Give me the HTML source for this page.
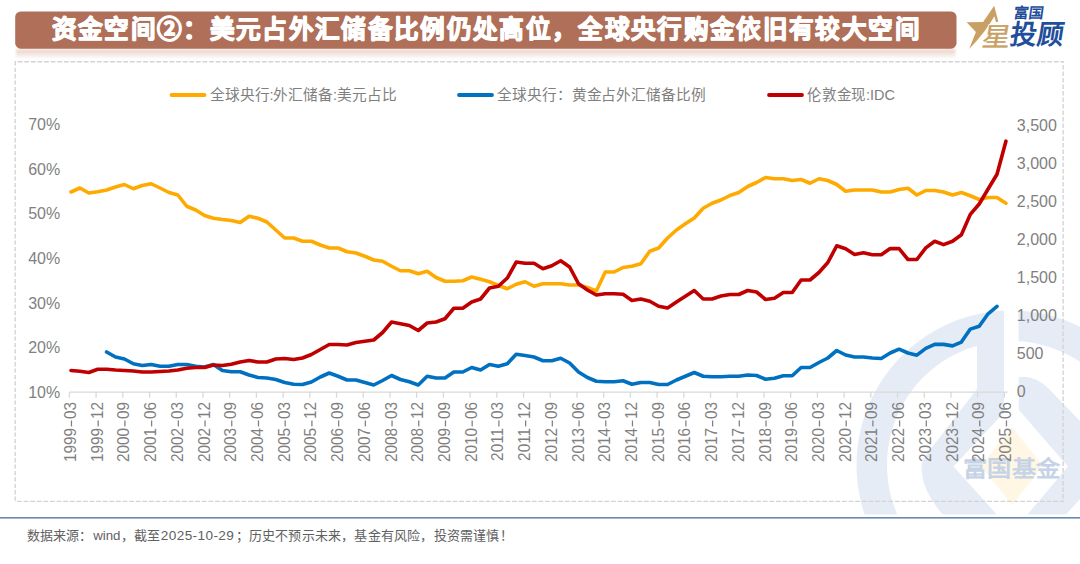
<!DOCTYPE html>
<html lang="zh-CN"><head><meta charset="utf-8">
<style>
html,body{margin:0;padding:0;background:#fff;}
body{width:1080px;height:564px;overflow:hidden;position:relative;font-family:"Liberation Sans", sans-serif;}
svg{position:absolute;left:0;top:0;}
.t{font-family:"Liberation Sans", sans-serif;}
</style></head><body>
<svg width="1080" height="564" viewBox="0 0 1080 564">
<defs>
<linearGradient id="refl" x1="0" y1="0" x2="0" y2="1">
<stop offset="0" stop-color="#f6ebe6"/>
<stop offset="0.25" stop-color="#ecd8d0"/>
<stop offset="1" stop-color="#ffffff"/>
</linearGradient>
<filter id="soft" x="-0.01" y="-0.3" width="1.02" height="1.6"><feGaussianBlur stdDeviation="1"/></filter>
<clipPath id="wmclip"><rect x="0" y="0" width="1080" height="514.5"/></clipPath>
</defs>
<!-- watermark -->
<g clip-path="url(#wmclip)">
<path fill-rule="evenodd" d="M1011,310.5 A154.5,154.5 0 1 0 1011.01,310.5 Z M1011,341 A124,124 0 1 1 1010.99,341 Z" fill="#e6ecf6"/>
<path d="M977,330 L1004,330 L1004,412.5 L953.5,466.5 L1000,518 L946,518 Q923,494 921.5,470 Q921,461 926.5,454.5 L977,389 Z" fill="#e6ecf6"/>
<path d="M1018.5,377 Q1036,375 1050,390 L1080,421 L1080,499 L1063,518 L1024.5,518 L1068,466.5 L1018.5,409.5 Z" fill="#e6ecf6"/>
<rect x="1004" y="300" width="14.5" height="109" fill="#ffffff"/>
<path d="M1012,427 L1043,466 L1012,505 L981,466 Z" fill="#fff6e3"/>
<text x="963.3" y="476" font-size="22" font-weight="bold" fill="#c6d3e6" class="t" textLength="96.5" lengthAdjust="spacingAndGlyphs">富国基金</text>
</g>
<!-- title bar -->
<rect x="16" y="48.5" width="939.5" height="10.5" fill="url(#refl)" filter="url(#soft)"/>
<rect x="15.2" y="11.5" width="941.3" height="37.2" rx="5.5" fill="#b06f58"/>
<text x="51.5" y="38.2" font-size="24.6" font-weight="900" fill="#ffffff" stroke="#ffffff" stroke-width="1.25" stroke-linejoin="round" class="t" textLength="868" lengthAdjust="spacing">资金空间②：美元占外汇储备比例仍处高位，全球央行购金依旧有较大空间</text>
<!-- logo -->
<g>
<path d="M994.2,5.7 L998.3,21.6 L996,22.2 L994.4,16.2 Q985.5,32 969.1,49.1 L975.9,32.1 L966.6,22.3 L983.1,21.9 Z" fill="#c9a063"/>
<text x="981.5" y="45.8" font-size="26" font-weight="500" fill="#ffffff" stroke="#ffffff" stroke-width="2.2" stroke-linejoin="round" class="t" transform="skewX(-10)" transform-origin="981.5 45.8" textLength="28" lengthAdjust="spacingAndGlyphs">星</text>
<text x="981.5" y="45.8" font-size="26" font-weight="500" fill="#c9a063" stroke="#c9a063" stroke-width="0.4" class="t" transform="skewX(-10)" transform-origin="981.5 45.8" textLength="28" lengthAdjust="spacingAndGlyphs">星</text>
<text x="1013" y="18" font-size="14.5" font-weight="bold" fill="#1f4e9a" class="t" transform="skewX(-8)" transform-origin="1013 18" textLength="31" lengthAdjust="spacingAndGlyphs">富国</text>
<text x="1009.5" y="44.3" font-size="27" font-weight="bold" fill="#1f4e9a" class="t" transform="skewX(-9)" transform-origin="1009.5 44.3" textLength="52.5" lengthAdjust="spacingAndGlyphs">投顾</text>
</g>
<!-- dashed frame -->
<g fill="none" stroke="#d4d4d4" stroke-width="1.4">
<path d="M15,61.8H1063.8" stroke-dasharray="4.8 1.8" stroke-dashoffset="3.9"/>
<path d="M15.2,61.3V501.6" stroke-dasharray="4.3 2.1"/>
<path d="M15,501.4H1063.8" stroke-dasharray="4.8 1.8" stroke-dashoffset="4.6"/>
<path d="M1063.1,61.8V501.4" stroke-dasharray="4.5 2.0" stroke-dashoffset="3.2"/>
</g>
<!-- legend -->
<g font-size="14.7" fill="#7f7f7f" class="t">
<line x1="171.5" y1="95" x2="204.5" y2="95" stroke="#ffaa00" stroke-width="3.8" stroke-linecap="round"/>
<text x="210" y="100.3" textLength="186.5" lengthAdjust="spacing">全球央行:外汇储备:美元占比</text>
<line x1="459" y1="95" x2="492" y2="95" stroke="#0070c0" stroke-width="3.8" stroke-linecap="round"/>
<text x="497" y="100.3" textLength="209" lengthAdjust="spacing">全球央行：黄金占外汇储备比例</text>
<line x1="769" y1="95" x2="802" y2="95" stroke="#c00000" stroke-width="3.8" stroke-linecap="round"/>
<text x="807" y="100.3" textLength="88" lengthAdjust="spacingAndGlyphs">伦敦金现:IDC</text>
</g>
<!-- axes -->
<g font-size="16" fill="#7f7f7f" class="t">
<text x="60.2" y="130.20" text-anchor="end">70%</text><text x="60.2" y="174.78" text-anchor="end">60%</text><text x="60.2" y="219.36" text-anchor="end">50%</text><text x="60.2" y="263.94" text-anchor="end">40%</text><text x="60.2" y="308.52" text-anchor="end">30%</text><text x="60.2" y="353.10" text-anchor="end">20%</text><text x="60.2" y="397.68" text-anchor="end">10%</text>
<text x="1016.8" y="130.50">3,500</text><text x="1016.8" y="168.64">3,000</text><text x="1016.8" y="206.78">2,500</text><text x="1016.8" y="244.92">2,000</text><text x="1016.8" y="283.06">1,500</text><text x="1016.8" y="321.20">1,000</text><text x="1016.8" y="359.34">500</text><text x="1016.8" y="397.48">0</text>
</g>
<path d="M69.4,392.2H1007.5 M69.40,392.2V397.8 M96.11,392.2V397.8 M122.83,392.2V397.8 M149.54,392.2V397.8 M176.26,392.2V397.8 M202.97,392.2V397.8 M229.68,392.2V397.8 M256.40,392.2V397.8 M283.11,392.2V397.8 M309.83,392.2V397.8 M336.54,392.2V397.8 M363.25,392.2V397.8 M389.97,392.2V397.8 M416.68,392.2V397.8 M443.40,392.2V397.8 M470.11,392.2V397.8 M496.82,392.2V397.8 M523.54,392.2V397.8 M550.25,392.2V397.8 M576.97,392.2V397.8 M603.68,392.2V397.8 M630.39,392.2V397.8 M657.11,392.2V397.8 M683.82,392.2V397.8 M710.54,392.2V397.8 M737.25,392.2V397.8 M763.96,392.2V397.8 M790.68,392.2V397.8 M817.39,392.2V397.8 M844.11,392.2V397.8 M870.82,392.2V397.8 M897.53,392.2V397.8 M924.25,392.2V397.8 M950.96,392.2V397.8 M977.68,392.2V397.8 M1004.39,392.2V397.8" stroke="#d9d9d9" stroke-width="1.3" fill="none"/>
<g font-size="16" fill="#7f7f7f" class="t">
<g transform="translate(76.00,401.9) rotate(-90) scale(0.962,1)"><text x="0" text-anchor="end">03</text><rect x="-25.49" y="-5.15" width="6.2" height="1.25"/><text x="-26.99" text-anchor="end">1999</text></g>
<g transform="translate(102.71,401.9) rotate(-90) scale(0.962,1)"><text x="0" text-anchor="end">12</text><rect x="-25.49" y="-5.15" width="6.2" height="1.25"/><text x="-26.99" text-anchor="end">1999</text></g>
<g transform="translate(129.43,401.9) rotate(-90) scale(0.962,1)"><text x="0" text-anchor="end">09</text><rect x="-25.49" y="-5.15" width="6.2" height="1.25"/><text x="-26.99" text-anchor="end">2000</text></g>
<g transform="translate(156.14,401.9) rotate(-90) scale(0.962,1)"><text x="0" text-anchor="end">06</text><rect x="-25.49" y="-5.15" width="6.2" height="1.25"/><text x="-26.99" text-anchor="end">2001</text></g>
<g transform="translate(182.86,401.9) rotate(-90) scale(0.962,1)"><text x="0" text-anchor="end">03</text><rect x="-25.49" y="-5.15" width="6.2" height="1.25"/><text x="-26.99" text-anchor="end">2002</text></g>
<g transform="translate(209.57,401.9) rotate(-90) scale(0.962,1)"><text x="0" text-anchor="end">12</text><rect x="-25.49" y="-5.15" width="6.2" height="1.25"/><text x="-26.99" text-anchor="end">2002</text></g>
<g transform="translate(236.28,401.9) rotate(-90) scale(0.962,1)"><text x="0" text-anchor="end">09</text><rect x="-25.49" y="-5.15" width="6.2" height="1.25"/><text x="-26.99" text-anchor="end">2003</text></g>
<g transform="translate(263.00,401.9) rotate(-90) scale(0.962,1)"><text x="0" text-anchor="end">06</text><rect x="-25.49" y="-5.15" width="6.2" height="1.25"/><text x="-26.99" text-anchor="end">2004</text></g>
<g transform="translate(289.71,401.9) rotate(-90) scale(0.962,1)"><text x="0" text-anchor="end">03</text><rect x="-25.49" y="-5.15" width="6.2" height="1.25"/><text x="-26.99" text-anchor="end">2005</text></g>
<g transform="translate(316.43,401.9) rotate(-90) scale(0.962,1)"><text x="0" text-anchor="end">12</text><rect x="-25.49" y="-5.15" width="6.2" height="1.25"/><text x="-26.99" text-anchor="end">2005</text></g>
<g transform="translate(343.14,401.9) rotate(-90) scale(0.962,1)"><text x="0" text-anchor="end">09</text><rect x="-25.49" y="-5.15" width="6.2" height="1.25"/><text x="-26.99" text-anchor="end">2006</text></g>
<g transform="translate(369.85,401.9) rotate(-90) scale(0.962,1)"><text x="0" text-anchor="end">06</text><rect x="-25.49" y="-5.15" width="6.2" height="1.25"/><text x="-26.99" text-anchor="end">2007</text></g>
<g transform="translate(396.57,401.9) rotate(-90) scale(0.962,1)"><text x="0" text-anchor="end">03</text><rect x="-25.49" y="-5.15" width="6.2" height="1.25"/><text x="-26.99" text-anchor="end">2008</text></g>
<g transform="translate(423.28,401.9) rotate(-90) scale(0.962,1)"><text x="0" text-anchor="end">12</text><rect x="-25.49" y="-5.15" width="6.2" height="1.25"/><text x="-26.99" text-anchor="end">2008</text></g>
<g transform="translate(450.00,401.9) rotate(-90) scale(0.962,1)"><text x="0" text-anchor="end">09</text><rect x="-25.49" y="-5.15" width="6.2" height="1.25"/><text x="-26.99" text-anchor="end">2009</text></g>
<g transform="translate(476.71,401.9) rotate(-90) scale(0.962,1)"><text x="0" text-anchor="end">06</text><rect x="-25.49" y="-5.15" width="6.2" height="1.25"/><text x="-26.99" text-anchor="end">2010</text></g>
<g transform="translate(503.42,401.9) rotate(-90) scale(0.962,1)"><text x="0" text-anchor="end">03</text><rect x="-25.49" y="-5.15" width="6.2" height="1.25"/><text x="-26.99" text-anchor="end">2011</text></g>
<g transform="translate(530.14,401.9) rotate(-90) scale(0.962,1)"><text x="0" text-anchor="end">12</text><rect x="-25.49" y="-5.15" width="6.2" height="1.25"/><text x="-26.99" text-anchor="end">2011</text></g>
<g transform="translate(556.85,401.9) rotate(-90) scale(0.962,1)"><text x="0" text-anchor="end">09</text><rect x="-25.49" y="-5.15" width="6.2" height="1.25"/><text x="-26.99" text-anchor="end">2012</text></g>
<g transform="translate(583.57,401.9) rotate(-90) scale(0.962,1)"><text x="0" text-anchor="end">06</text><rect x="-25.49" y="-5.15" width="6.2" height="1.25"/><text x="-26.99" text-anchor="end">2013</text></g>
<g transform="translate(610.28,401.9) rotate(-90) scale(0.962,1)"><text x="0" text-anchor="end">03</text><rect x="-25.49" y="-5.15" width="6.2" height="1.25"/><text x="-26.99" text-anchor="end">2014</text></g>
<g transform="translate(636.99,401.9) rotate(-90) scale(0.962,1)"><text x="0" text-anchor="end">12</text><rect x="-25.49" y="-5.15" width="6.2" height="1.25"/><text x="-26.99" text-anchor="end">2014</text></g>
<g transform="translate(663.71,401.9) rotate(-90) scale(0.962,1)"><text x="0" text-anchor="end">09</text><rect x="-25.49" y="-5.15" width="6.2" height="1.25"/><text x="-26.99" text-anchor="end">2015</text></g>
<g transform="translate(690.42,401.9) rotate(-90) scale(0.962,1)"><text x="0" text-anchor="end">06</text><rect x="-25.49" y="-5.15" width="6.2" height="1.25"/><text x="-26.99" text-anchor="end">2016</text></g>
<g transform="translate(717.14,401.9) rotate(-90) scale(0.962,1)"><text x="0" text-anchor="end">03</text><rect x="-25.49" y="-5.15" width="6.2" height="1.25"/><text x="-26.99" text-anchor="end">2017</text></g>
<g transform="translate(743.85,401.9) rotate(-90) scale(0.962,1)"><text x="0" text-anchor="end">12</text><rect x="-25.49" y="-5.15" width="6.2" height="1.25"/><text x="-26.99" text-anchor="end">2017</text></g>
<g transform="translate(770.56,401.9) rotate(-90) scale(0.962,1)"><text x="0" text-anchor="end">09</text><rect x="-25.49" y="-5.15" width="6.2" height="1.25"/><text x="-26.99" text-anchor="end">2018</text></g>
<g transform="translate(797.28,401.9) rotate(-90) scale(0.962,1)"><text x="0" text-anchor="end">06</text><rect x="-25.49" y="-5.15" width="6.2" height="1.25"/><text x="-26.99" text-anchor="end">2019</text></g>
<g transform="translate(823.99,401.9) rotate(-90) scale(0.962,1)"><text x="0" text-anchor="end">03</text><rect x="-25.49" y="-5.15" width="6.2" height="1.25"/><text x="-26.99" text-anchor="end">2020</text></g>
<g transform="translate(850.71,401.9) rotate(-90) scale(0.962,1)"><text x="0" text-anchor="end">12</text><rect x="-25.49" y="-5.15" width="6.2" height="1.25"/><text x="-26.99" text-anchor="end">2020</text></g>
<g transform="translate(877.42,401.9) rotate(-90) scale(0.962,1)"><text x="0" text-anchor="end">09</text><rect x="-25.49" y="-5.15" width="6.2" height="1.25"/><text x="-26.99" text-anchor="end">2021</text></g>
<g transform="translate(904.13,401.9) rotate(-90) scale(0.962,1)"><text x="0" text-anchor="end">06</text><rect x="-25.49" y="-5.15" width="6.2" height="1.25"/><text x="-26.99" text-anchor="end">2022</text></g>
<g transform="translate(930.85,401.9) rotate(-90) scale(0.962,1)"><text x="0" text-anchor="end">03</text><rect x="-25.49" y="-5.15" width="6.2" height="1.25"/><text x="-26.99" text-anchor="end">2023</text></g>
<g transform="translate(957.56,401.9) rotate(-90) scale(0.962,1)"><text x="0" text-anchor="end">12</text><rect x="-25.49" y="-5.15" width="6.2" height="1.25"/><text x="-26.99" text-anchor="end">2023</text></g>
<g transform="translate(984.28,401.9) rotate(-90) scale(0.962,1)"><text x="0" text-anchor="end">09</text><rect x="-25.49" y="-5.15" width="6.2" height="1.25"/><text x="-26.99" text-anchor="end">2024</text></g>
<g transform="translate(1010.99,401.9) rotate(-90) scale(0.962,1)"><text x="0" text-anchor="end">06</text><rect x="-25.49" y="-5.15" width="6.2" height="1.25"/><text x="-26.99" text-anchor="end">2025</text></g>
</g>
<!-- series -->
<g fill="none" stroke-width="3.6" stroke-linejoin="round" stroke-linecap="round">
<polyline points="71.00,192.00 79.90,188.00 88.81,193.00 97.71,191.75 106.62,190.00 115.52,187.00 124.42,184.50 133.33,188.75 142.23,185.50 151.14,183.75 160.04,188.00 168.94,192.50 177.85,195.00 186.75,206.25 195.66,210.00 204.56,215.50 213.46,218.25 222.37,219.50 231.27,220.50 240.18,222.50 249.08,216.25 257.98,218.25 266.89,222.00 275.79,230.00 284.70,238.00 293.60,238.00 302.50,241.25 311.41,241.25 320.31,245.00 329.22,248.00 338.12,248.00 347.02,251.75 355.93,253.00 364.83,256.25 373.74,260.00 382.64,261.25 391.54,266.25 400.45,270.75 409.35,270.75 418.26,273.75 427.16,271.25 436.06,277.50 444.97,281.25 453.87,281.25 462.78,280.75 471.68,277.00 480.58,279.25 489.49,281.75 498.39,285.50 507.30,288.75 516.20,284.25 525.10,281.75 534.01,286.25 542.91,283.75 551.82,283.75 560.72,283.75 569.62,285.00 578.53,285.00 587.43,287.50 596.34,291.00 605.24,272.00 614.14,272.00 623.05,267.50 631.95,266.25 640.86,263.75 649.76,251.25 658.66,248.00 667.57,238.00 676.47,230.00 685.38,223.75 694.28,218.00 703.18,208.25 712.09,203.25 720.99,200.00 729.90,195.50 738.80,192.50 747.70,186.50 756.61,182.50 765.51,177.50 774.42,178.75 783.32,178.75 792.22,180.50 801.13,179.50 810.03,183.25 818.94,178.75 827.84,180.50 836.74,184.50 845.65,191.25 854.55,190.00 863.46,190.00 872.36,190.00 881.26,192.00 890.17,192.00 899.07,189.50 907.98,188.30 916.88,195.00 925.78,190.50 934.69,190.50 943.59,192.00 952.50,195.00 961.40,192.50 970.30,195.75 979.21,199.50 988.11,197.50 997.02,197.50 1005.92,203.20" stroke="#ffaa00"/>
<polyline points="106.62,352.00 115.52,357.00 124.42,359.00 133.33,363.75 142.23,365.50 151.14,364.50 160.04,366.25 168.94,366.25 177.85,364.50 186.75,364.50 195.66,366.25 204.56,367.00 213.46,364.50 222.37,370.50 231.27,371.75 240.18,371.75 249.08,375.00 257.98,377.50 266.89,378.00 275.79,379.50 284.70,382.50 293.60,384.25 302.50,384.50 311.41,382.00 320.31,377.00 329.22,373.00 338.12,376.25 347.02,380.00 355.93,380.00 364.83,382.50 373.74,385.00 382.64,380.50 391.54,375.50 400.45,379.50 409.35,381.75 418.26,385.00 427.16,376.25 436.06,378.00 444.97,378.00 453.87,372.00 462.78,372.00 471.68,367.50 480.58,370.00 489.49,364.50 498.39,366.25 507.30,363.75 516.20,354.25 525.10,355.50 534.01,357.00 542.91,360.75 551.82,360.75 560.72,358.25 569.62,363.00 578.53,372.00 587.43,377.50 596.34,381.25 605.24,381.75 614.14,381.75 623.05,380.75 631.95,384.25 640.86,382.50 649.76,382.50 658.66,384.50 667.57,384.50 676.47,380.00 685.38,376.25 694.28,372.50 703.18,376.25 712.09,376.75 720.99,376.75 729.90,376.25 738.80,376.25 747.70,375.00 756.61,375.50 765.51,379.25 774.42,378.25 783.32,375.75 792.22,375.75 801.13,367.50 810.03,367.50 818.94,362.50 827.84,358.00 836.74,350.50 845.65,355.00 854.55,357.00 863.46,357.00 872.36,358.00 881.26,358.50 890.17,353.00 899.07,349.20 907.98,353.00 916.88,355.20 925.78,348.30 934.69,344.40 943.59,344.40 952.50,345.90 961.40,342.10 970.30,329.10 979.21,326.30 988.11,313.80 997.02,306.40" stroke="#0070c0"/>
<polyline points="71.00,370.50 79.90,371.25 88.81,372.50 97.71,369.25 106.62,369.25 115.52,370.00 124.42,370.50 133.33,371.00 142.23,372.00 151.14,372.00 160.04,371.50 168.94,371.00 177.85,370.00 186.75,368.25 195.66,367.50 204.56,367.50 213.46,365.00 222.37,365.50 231.27,364.25 240.18,362.00 249.08,360.50 257.98,362.00 266.89,362.00 275.79,359.00 284.70,358.50 293.60,359.50 302.50,358.00 311.41,354.50 320.31,349.50 329.22,344.50 338.12,344.50 347.02,345.00 355.93,342.50 364.83,341.25 373.74,340.00 382.64,332.50 391.54,322.00 400.45,323.75 409.35,325.50 418.26,330.50 427.16,323.00 436.06,322.00 444.97,318.75 453.87,308.25 462.78,308.25 471.68,302.00 480.58,299.00 489.49,288.00 498.39,286.25 507.30,278.00 516.20,262.00 525.10,263.25 534.01,263.25 542.91,268.75 551.82,265.75 560.72,260.75 569.62,267.00 578.53,283.75 587.43,290.00 596.34,295.00 605.24,293.75 614.14,293.75 623.05,294.25 631.95,300.50 640.86,299.00 649.76,301.25 658.66,306.25 667.57,308.00 676.47,302.00 685.38,296.25 694.28,290.50 703.18,299.00 712.09,299.00 720.99,296.00 729.90,294.50 738.80,294.50 747.70,290.50 756.61,292.00 765.51,299.50 774.42,298.25 783.32,292.50 792.22,292.50 801.13,280.00 810.03,280.00 818.94,272.50 827.84,262.50 836.74,245.75 845.65,248.75 854.55,254.50 863.46,252.80 872.36,254.80 881.26,254.80 890.17,248.60 899.07,248.60 907.98,259.50 916.88,259.50 925.78,247.90 934.69,241.20 943.59,244.60 952.50,241.20 961.40,234.70 970.30,214.40 979.21,204.00 988.11,189.00 997.02,174.20 1005.92,141.20" stroke="#c00000"/>
</g>
<!-- bottom rule and footnote -->
<rect x="0" y="517" width="1080" height="1.6" fill="#6989ad"/>
<g font-size="13" fill="#616161" class="t">
<text x="27" y="540">数据来源：</text>
<text x="93.2" y="540" font-size="13.5" textLength="27.3" lengthAdjust="spacingAndGlyphs">wind</text>
<text x="121.2" y="540">，截至</text>
<text x="160.8" y="540" font-size="13.6" textLength="73" lengthAdjust="spacing">2025-10-29</text>
<text x="235.5" y="540" textLength="277" lengthAdjust="spacing">；历史不预示未来，基金有风险，投资需谨慎！</text>
</g>
</svg>
</body></html>
